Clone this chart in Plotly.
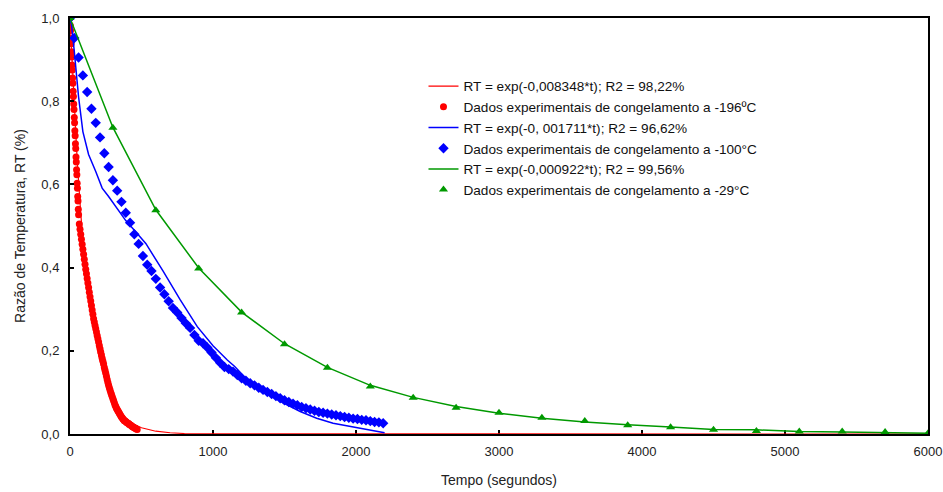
import plotly.graph_objects as go

# ---------------- data ----------------
# -196 C experimental (red circles)
red_t = [0, 2, 4, 6, 8, 10, 12, 14, 16, 18, 20, 22, 24, 26, 28, 30, 32, 34, 36, 38, 40,
         42, 44, 46, 48, 50, 52, 54, 56, 58, 60,
         65, 70, 75, 80, 85, 90, 95, 100, 105, 110, 115, 120, 125, 130, 135, 140, 145, 150,
         155, 160, 165, 170, 175, 180, 185, 190, 195, 200, 205, 210, 215, 220, 225, 230,
         235, 240, 245, 250, 255, 260, 265, 270, 275, 280, 285, 290, 295, 300, 305, 310,
         315, 320, 325, 330, 335, 340, 345, 350, 355, 360, 365, 370, 375, 380, 385, 390,
         395, 400, 405, 410, 415, 420, 425, 430, 435, 440, 445, 450, 455, 460, 465, 470]
red_v = [1.000, 0.982, 0.970, 0.951, 0.938, 0.919, 0.906, 0.887, 0.875, 0.856, 0.843, 0.824,
         0.811, 0.793, 0.780, 0.761, 0.748, 0.729, 0.717, 0.698, 0.686, 0.666, 0.654, 0.635,
         0.623, 0.603, 0.591, 0.571, 0.560, 0.540, 0.527,
         0.505, 0.492, 0.480, 0.468, 0.456, 0.444, 0.432, 0.420, 0.408, 0.396, 0.385, 0.374,
         0.363, 0.352, 0.341, 0.330, 0.320, 0.309, 0.298, 0.288, 0.277, 0.269, 0.261, 0.253,
         0.245, 0.237, 0.229, 0.221, 0.213, 0.205, 0.197, 0.190, 0.182, 0.175, 0.168, 0.160,
         0.153, 0.146, 0.139, 0.131, 0.124, 0.117, 0.111, 0.106, 0.100, 0.095, 0.090, 0.085,
         0.080, 0.075, 0.070, 0.066, 0.062, 0.059, 0.056, 0.053, 0.050, 0.047, 0.044, 0.041,
         0.039, 0.036, 0.034, 0.032, 0.031, 0.030, 0.028, 0.027, 0.026, 0.025, 0.023, 0.022,
         0.021, 0.020, 0.018, 0.017, 0.016, 0.015, 0.014, 0.013, 0.012, 0.011]

# -196 C fitted curve (red line)
red_fit_t = [0, 25, 50, 75, 100, 150, 200, 250, 300, 350, 400, 450, 500, 600, 700, 800, 1000, 6000]
red_fit_v = [1.0, 0.81, 0.66, 0.53, 0.43, 0.285, 0.19, 0.125, 0.082, 0.054, 0.035, 0.023,
             0.015, 0.0067, 0.003, 0.0012, 0.0002, 0.0]

# -100 C experimental (blue diamonds)
blue_t = [0, 30, 60, 90, 120, 150, 180, 210, 240, 270, 300, 330, 360, 390, 420, 450, 480,
          510, 540, 570, 600, 630, 660, 690, 720, 750, 780, 810, 840, 870, 900, 930, 960,
          990, 1020, 1050, 1080, 1110, 1140, 1170, 1200, 1230, 1260, 1290, 1320, 1350, 1380,
          1410, 1440, 1470, 1500, 1530, 1560, 1590, 1620, 1650, 1680, 1710, 1740, 1770, 1800,
          1830, 1860, 1890, 1920, 1950, 1980, 2010, 2040, 2070, 2100, 2130, 2160, 2190]
blue_v = [1.000, 0.952, 0.905, 0.862, 0.822, 0.782, 0.748, 0.713, 0.675, 0.642, 0.610, 0.585,
          0.558, 0.532, 0.508, 0.480, 0.457, 0.428, 0.407, 0.392, 0.373, 0.352, 0.336, 0.319,
          0.303, 0.292, 0.279, 0.266, 0.255, 0.238, 0.224, 0.218, 0.208, 0.196, 0.183, 0.171,
          0.161, 0.156, 0.150, 0.142, 0.134, 0.128, 0.122, 0.117, 0.111, 0.106, 0.101, 0.096,
          0.091, 0.086, 0.081, 0.077, 0.073, 0.069, 0.065, 0.062, 0.059, 0.056, 0.053, 0.051,
          0.049, 0.047, 0.045, 0.043, 0.041, 0.039, 0.037, 0.036, 0.034, 0.033, 0.031, 0.029,
          0.028, 0.026]

# -100 C fitted curve (blue line)
blue_fit_t = [0, 10, 30, 60, 90, 130, 180, 225, 270, 330, 390, 450, 530, 650, 770, 890, 1000,
              1100, 1150, 1260, 1380, 1490, 1610, 1725, 1840, 1960, 2070, 2170, 2200]
blue_fit_v = [1.0, 0.985, 0.92, 0.81, 0.727, 0.672, 0.631, 0.591, 0.571, 0.543, 0.513, 0.49,
              0.458, 0.392, 0.323, 0.258, 0.212, 0.178, 0.163, 0.123, 0.098, 0.075, 0.054,
              0.038, 0.026, 0.018, 0.010, 0.004, 0.003]

# -29 C experimental (green triangles)
green_t = [0, 300, 600, 900, 1200, 1500, 1800, 2100, 2400, 2700, 3000, 3300, 3600, 3900,
           4200, 4500, 4800, 5100, 5400, 5700, 6000]
green_v = [1.0, 0.736, 0.538, 0.398, 0.292, 0.216, 0.159, 0.114, 0.087, 0.063, 0.051, 0.039,
           0.031, 0.021, 0.016, 0.010, 0.007, 0.006, 0.006, 0.005, 0.002]

# -29 C fitted curve (green line)
green_fit_t = [0, 300, 600, 900, 1200, 1500, 1800, 2100, 2400, 2700, 3000, 3300, 3600, 3900,
               4200, 4500, 4800, 5100, 5400, 5700, 6000]
green_fit_v = [1.0, 0.737, 0.539, 0.399, 0.293, 0.217, 0.160, 0.117, 0.088, 0.066, 0.050,
               0.038, 0.029, 0.022, 0.017, 0.011, 0.010, 0.006, 0.005, 0.004, 0.002]

legend_names = [
    "RT = exp(-0,008348*t); R2 = 98,22%",
    "Dados experimentais de congelamento a -196ºC",
    "RT = exp(-0, 001711*t); R2 = 96,62%",
    "Dados experimentais de congelamento a -100°C",
    "RT = exp(-0,000922*t); R2 = 99,56%",
    "Dados experimentais de congelamento a -29°C",
]

x_ticks = [0, 1000, 2000, 3000, 4000, 5000, 6000]
y_ticks = [0.0, 0.2, 0.4, 0.6, 0.8, 1.0]
y_tick_labels = ["0,0", "0,2", "0,4", "0,6", "0,8", "1,0"]

RED = "#ff0000"
BLUE = "#0000ff"
GREEN = "#009900"

fig = go.Figure()
fig.add_trace(go.Scatter(x=red_fit_t, y=red_fit_v, mode="lines", name=legend_names[0],
                         line=dict(color=RED, width=1.2)))
fig.add_trace(go.Scatter(x=red_t, y=red_v, mode="markers", name=legend_names[1],
                         marker=dict(color=RED, size=7, symbol="circle")))
fig.add_trace(go.Scatter(x=blue_fit_t, y=blue_fit_v, mode="lines", name=legend_names[2],
                         line=dict(color=BLUE, width=1.5)))
fig.add_trace(go.Scatter(x=blue_t, y=blue_v, mode="markers", name=legend_names[3],
                         marker=dict(color=BLUE, size=8, symbol="diamond")))
fig.add_trace(go.Scatter(x=green_fit_t, y=green_fit_v, mode="lines", name=legend_names[4],
                         line=dict(color=GREEN, width=1.5)))
fig.add_trace(go.Scatter(x=green_t, y=green_v, mode="markers", name=legend_names[5],
                         marker=dict(color=GREEN, size=8, symbol="triangle-up")))

FONT = "Arial, Liberation Sans, sans-serif"

fig.update_layout(
    width=943, height=492,
    margin=dict(l=70, r=15, t=18, b=58, autoexpand=False),
    paper_bgcolor="white", plot_bgcolor="white",
    font=dict(family=FONT, size=13, color="#222222"),
    showlegend=True,
    legend=dict(x=0.412, y=0.873, xanchor="left", yanchor="top",
                bgcolor="rgba(0,0,0,0)", font=dict(size=13.6, color="#111111"),
                tracegroupgap=0),
    xaxis=dict(range=[0, 6000], tickvals=x_ticks, ticktext=[str(v) for v in x_ticks],
               showgrid=False, zeroline=False, showline=True, linecolor="black",
               linewidth=2, mirror=True, ticks="inside", ticklen=4, tickwidth=2,
               tickcolor="black", automargin=False, ticklabelstandoff=4,
               ticklabeloverflow="allow", layer="below traces",
               title=dict(text="Tempo (segundos)", font=dict(size=14), standoff=18)),
    yaxis=dict(range=[0, 1.0], tickvals=y_ticks, ticktext=y_tick_labels,
               showgrid=False, zeroline=False, showline=True, linecolor="black",
               linewidth=2, mirror=True, ticks="inside", ticklen=4, tickwidth=2,
               tickcolor="black", automargin=False, ticklabelstandoff=6,
               ticklabeloverflow="allow",
               title=dict(text="Razão de Temperatura, RT (%)", font=dict(size=14), standoff=12)),
)

# place the figure at the window's top-left corner (no default page margin)
fig.write_html("out.html",
               config={"displayModeBar": False},
               post_script="document.body.style.margin='0';document.body.style.overflow='hidden';")
